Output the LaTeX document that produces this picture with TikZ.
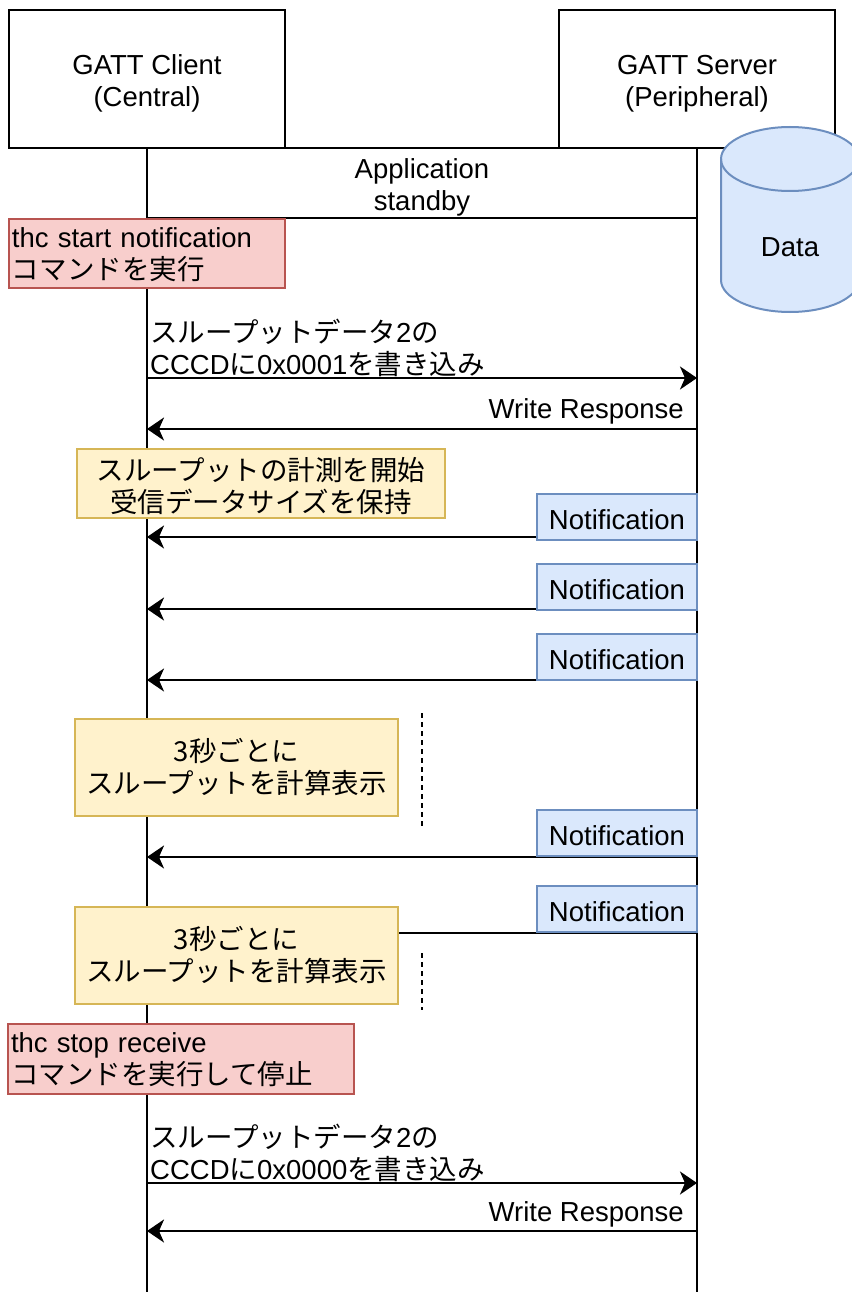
\documentclass[tikz,border=0pt]{standalone}
\usepackage{fontspec}
\setmainfont{Liberation Sans}
\newfontfamily\jpfont{Noto Sans CJK JP}
\newcommand{\J}[1]{{\jpfont #1}}
\newcommand{\tstrut}[1]{\rule{0pt}{#1pt}}
\usetikzlibrary{arrows.meta}
\definecolor{redfill}{HTML}{F8CECC}
\definecolor{reddraw}{HTML}{B85450}
\definecolor{yelfill}{HTML}{FFF2CC}
\definecolor{yeldraw}{HTML}{D6B656}
\definecolor{bluefill}{HTML}{DAE8FC}
\definecolor{bluedraw}{HTML}{6C8EBF}
\tikzset{
  actor/.style={draw=black, line width=2pt, fill=white, minimum width=276, minimum height=138, align=center, inner sep=0pt, outer sep=0pt},
  lifeline/.style={draw=black, line width=2.5pt},
  msg/.style={draw=black, line width=2.5pt, -{Stealth[length=17pt, width=23pt, inset=5pt]}},
  plain/.style={draw=black, line width=2.5pt},
  cmdbox/.style={draw=reddraw, fill=redfill, line width=2pt, align=left, inner sep=2pt, outer sep=0pt},
  notebox/.style={draw=yeldraw, fill=yelfill, line width=2pt, align=center, inner sep=0pt, outer sep=0pt},
  notif/.style={draw=bluedraw, fill=bluefill, line width=2pt, minimum width=160, minimum height=46, inner sep=0pt, outer sep=0pt},
  lbl/.style={inner sep=0pt},
  sep/.style={draw=black, line width=1.5pt, dash pattern=on 5pt off 4pt}
}
\begin{document}
\begin{tikzpicture}[x=1pt, y=-1pt, font=\fontsize{27.5}{32}\selectfont]
\useasboundingbox (0,0) rectangle (851,1292);
% actors
\node[actor] (client) at (147,79) {\tstrut{28}GATT Client\\(Central)};
\node[actor] (server) at (697,79) {\tstrut{28}GATT Server\\(Peripheral)};
\coordinate (clientEnd) at (147,1292);
\coordinate (serverEnd) at (697,1292);
\draw[lifeline] (client.south) -- (clientEnd);
\draw[lifeline] (server.south) -- (serverEnd);
% application standby frame
\draw[plain] (client.south east) -- (server.south west);
\coordinate (sbL) at (147,218);
\coordinate (sbR) at (697,218);
\draw[plain] (sbL) -- (sbR);
\node[lbl, align=center] (standby) at (422,187) {Application\\standby};
% data cylinder
\fill[bluefill] (721,159) -- (721,280) arc[start angle=180, end angle=0, x radius=69, y radius=32] -- (859,159) arc[start angle=0, end angle=-180, x radius=69, y radius=32] -- cycle;
\draw[bluedraw, line width=2pt] (721,159) -- (721,280) arc[start angle=180, end angle=0, x radius=69, y radius=32] -- (859,159);
\draw[bluedraw, line width=2pt] (790,159) ellipse[x radius=69, y radius=32];
\node[lbl] (data) at (790,247) {Data};
% command 1
\node[cmdbox, anchor=north west, minimum width=276, minimum height=69, text width=270] (cmd1) at (9,219) {\tstrut{22}thc start notification\\\J{コマンドを実行}};
% write CCCD 0x0001
\coordinate (w1c) at (147,378);
\coordinate (w1s) at (697,378);
\draw[msg] (w1c) -- (w1s);
\node[lbl, align=left, anchor=west] (w1lbl) at (150,348) {\J{スループットデータ}2\J{の}\\CCCD\J{に}0x0001\J{を書き込み}};
\coordinate (r1s) at (697,429);
\coordinate (r1c) at (147,429);
\draw[msg] (r1s) -- (r1c);
\node[lbl, anchor=east] (r1lbl) at (684,411) {Write Response};
% start measurement note
\node[notebox, minimum width=368, minimum height=69] (note1) at (261,483) {\tstrut{30}\J{スループットの計測を開始}\\\J{受信データサイズを保持}};
% notifications
\coordinate (n1s) at (697,537);
\coordinate (n1c) at (147,537);
\draw[msg] (n1s) -- (n1c);
\node[notif, anchor=south east] (notif1) at (697,540) {\tstrut{26}Notification};
\coordinate (n2s) at (697,609);
\coordinate (n2c) at (147,609);
\draw[msg] (n2s) -- (n2c);
\node[notif, anchor=south east] (notif2) at (697,610) {\tstrut{26}Notification};
\coordinate (n3s) at (697,680);
\coordinate (n3c) at (147,680);
\draw[msg] (n3s) -- (n3c);
\node[notif, anchor=south east] (notif3) at (697,680) {\tstrut{26}Notification};
% periodic display 1
\node[notebox, minimum width=323, minimum height=97] (calc1) at (236.5,767.5) {\J{3秒ごとに}\\\J{スループットを計算表示}};
\coordinate (d1a) at (422,713);
\coordinate (d1b) at (422,827);
\draw[sep] (d1a) -- (d1b);
\coordinate (n4s) at (697,857);
\coordinate (n4c) at (147,857);
\draw[msg] (n4s) -- (n4c);
\node[notif, anchor=south east] (notif4) at (697,856) {\tstrut{26}Notification};
\coordinate (n5s) at (697,933);
\coordinate (n5c) at (147,933);
\draw[msg] (n5s) -- (n5c);
\node[notif, anchor=south east] (notif5) at (697,932) {\tstrut{26}Notification};
% periodic display 2
\node[notebox, minimum width=323, minimum height=97] (calc2) at (236.5,955.5) {\J{3秒ごとに}\\\J{スループットを計算表示}};
\coordinate (d2a) at (422,953);
\coordinate (d2b) at (422,1010);
\draw[sep] (d2a) -- (d2b);
% command 2
\node[cmdbox, anchor=north west, minimum width=346, minimum height=70, text width=340] (cmd2) at (8,1024) {\tstrut{22}thc stop receive\\\J{コマンドを実行して停止}};
% write CCCD 0x0000
\coordinate (w2c) at (147,1183);
\coordinate (w2s) at (697,1183);
\draw[msg] (w2c) -- (w2s);
\node[lbl, align=left, anchor=west] (w2lbl) at (150,1153) {\J{スループットデータ}2\J{の}\\CCCD\J{に}0x0000\J{を書き込み}};
\coordinate (r2s) at (697,1231);
\coordinate (r2c) at (147,1231);
\draw[msg] (r2s) -- (r2c);
\node[lbl, anchor=east] (r2lbl) at (684,1214) {Write Response};
\end{tikzpicture}
\end{document}
